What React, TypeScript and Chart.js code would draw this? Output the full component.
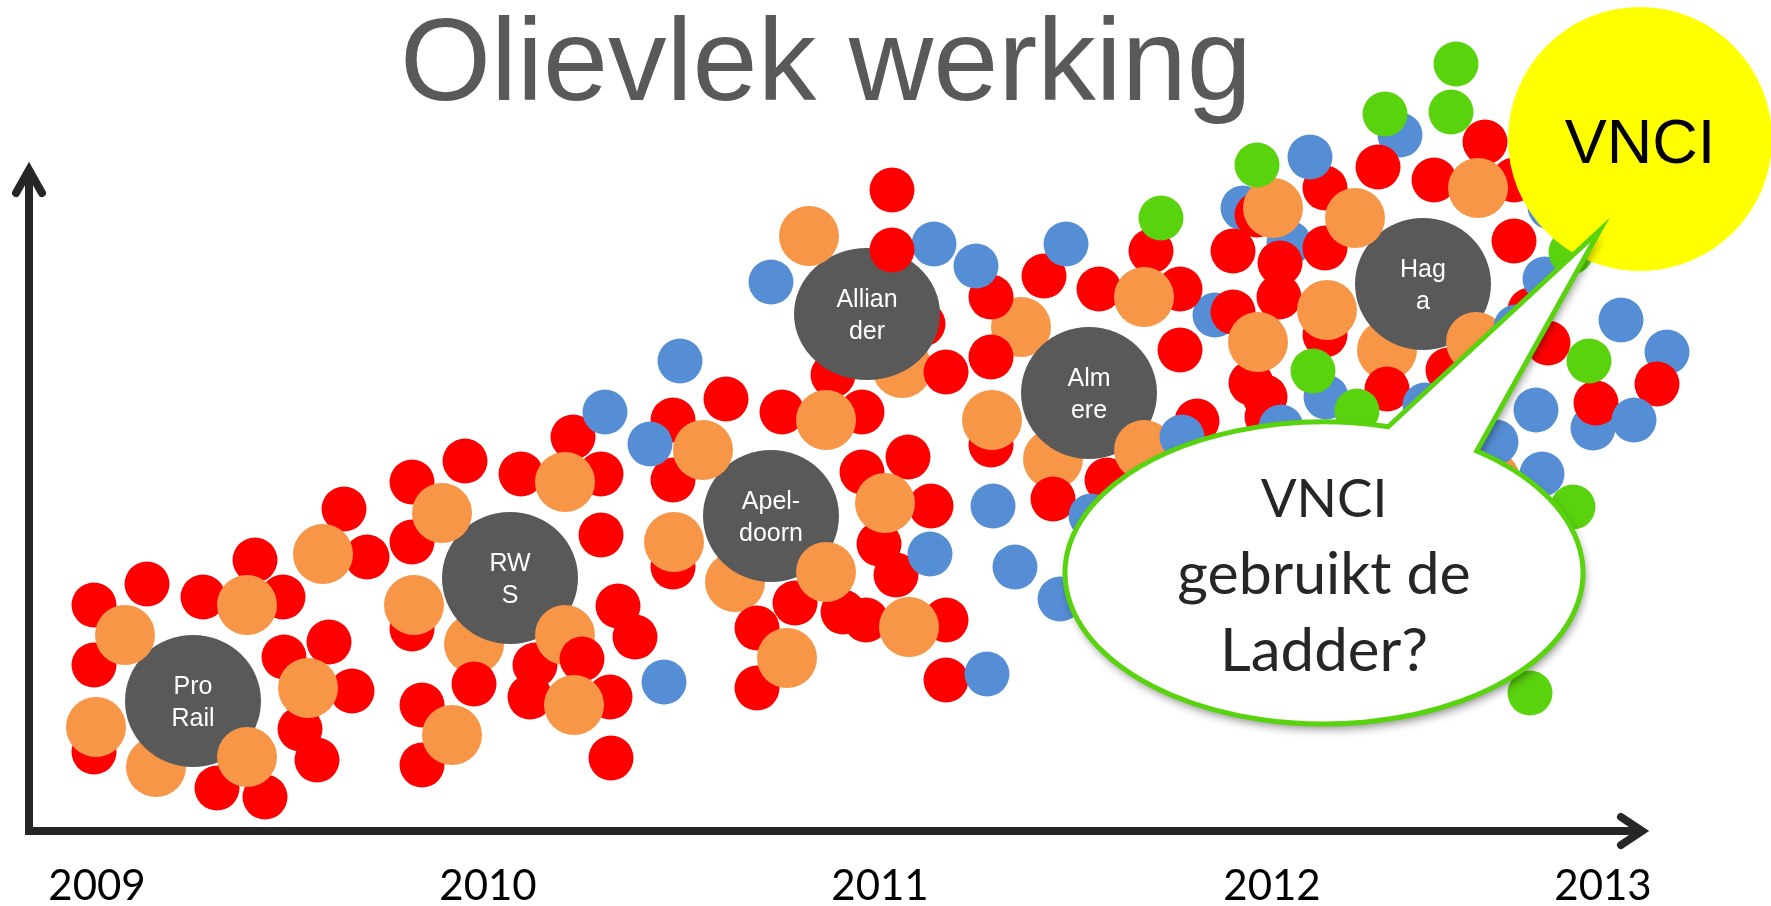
import React, { useEffect, useRef } from "react";
import { Chart, registerables } from "chart.js";

Chart.register(...registerables);

const titleText = "Olievlek werking";
const yearLabels = ["2009", "2010", "2011", "2012", "2013"];
const yearTicks = [97, 488, 880, 1272, 1603];

const redPoints = [
  [94,226],[147,247],[203,234],[255,271],[283,234],[344,322],[367,274],[412,289],[412,202],[94,166],
  [284,174],[329,189],[352,140],[300,102],[317,71],[94,79],[217,43],[265,34],[422,126],[422,66],[474,147],
  [726,432],[673,411],[573,394],[601,357],[521,357],[465,370],[412,349],[673,351],[782,419],[833,456],
  [862,419],[862,359],[601,296],[673,264],[879,287],[618,225],[635,194],[530,134],[535,166],[610,134],
  [611,73],[795,228],[843,219],[866,211],[757,203],[757,143],
  [892,641],[991,534],[1044,555],[1151,580],[1099,542],[1180,542],[991,474],[1180,481],[946,459],[923,507],
  [908,374],[931,325],[896,256],[946,211],[946,151],[991,386],[1053,332],[1107,351],[1197,410],
  [1485,689],[1378,664],[1325,643],[1434,651],[1514,651],[1257,616],[1233,580],[1325,583],[1514,590],
  [1280,568],[1279,534],[1233,519],[1325,496],[1251,448],[1265,434],[1267,414],[1387,442],[1448,461],
  [1548,488],[1530,521],[1596,428],[1657,447],[1482,394],
];
const topRedPoints = [[892,581],[582,172]];
const backOrangePoints = [[474,187],[156,64],[735,249],[902,463],[1021,504],[1053,372],[1387,481]];
const orangePoints = [
  [125,196],[247,226],[323,277],[442,318],[414,226],[308,143],[96,104],[247,74],[452,96],[565,349],
  [703,381],[826,411],[885,328],[674,289],[565,196],[826,259],[787,173],[809,595],[1144,534],[992,411],
  [1144,381],[909,204],[1273,623],[1355,613],[1478,643],[1327,521],[1258,489],[1476,489],[1490,351],
];
const topOrangePoints = [[574,126]];
const backBluePoints = [[1243,623],[1289,588],[1215,516],[1400,696],[1593,403],[1667,479],[1550,624]];
const bluePoints = [
  [680,470],[605,419],[650,387],[664,149],[771,549],[934,587],[976,565],[1066,587],[993,325],[930,277],
  [1015,264],[1060,232],[1091,315],[1182,394],[987,157],[1310,674],[1545,552],[1621,511],[1634,411],
  [1536,421],[1496,389],[1542,357],[1326,434],[1281,404],[1425,426],[1516,504],
];
const greenPoints = [[1456,767],[1451,719],[1385,717],[1257,666],[1161,613],[1571,579],[1589,470],[1313,460],[1357,420],[1573,324],[1530,138]];
const companyPoints = [[193,130],[510,253],[771,315],[867,517],[1089,438],[1423,547]];
const companyLabels = [["Pro", "Rail"], ["RW", "S"], ["Apel-", "doorn"], ["Allian", "der"], ["Alm", "ere"], ["Hag", "a"]];
const companyWidths = [68, 68, 68, 73, 68, 68];
const vnciPoint = [[1640,692]];
const vnciLabel = "VNCI";
const calloutLines = ["VNCI", "gebruikt de", "Ladder?"];
const calloutSizes = [53, 59, 60];

const toXY = (pts: number[][]) => pts.map(([x, y]) => ({ x, y }));
const ds = (label: string, pts: number[][], color: string, radius: any, extra: any = {}) => ({
  label,
  data: toXY(pts),
  backgroundColor: color,
  borderWidth: 0,
  pointRadius: radius,
  pointHoverRadius: radius,
  clip: false as const,
  ...extra,
});

const RED = "#FF0000", ORANGE = "#F79646", BLUE = "#558ED5", GREEN = "#5AD30F", DARK = "#595959", INK = "#262626";

// The company bubbles are slightly flattened in the picture, so they use an oval point style.
const ovalStyle = (rx: number, ry: number, color: string) => {
  const c = document.createElement("canvas");
  c.width = rx * 2;
  c.height = ry * 2;
  const g = c.getContext("2d") as CanvasRenderingContext2D;
  g.fillStyle = color;
  g.beginPath();
  g.ellipse(rx, ry, rx, ry, 0, 0, Math.PI * 2);
  g.fill();
  return c;
};

const overlay = {
  id: "overlay",
  afterDatasetsDraw(chart: any) {
    const { ctx, scales } = chart;
    const X = (v: number) => scales.x.getPixelForValue(v);
    const Y = (v: number) => scales.y.getPixelForValue(v);
    ctx.save();

    // axes with arrow heads
    ctx.strokeStyle = INK;
    ctx.lineWidth = 8;
    ctx.lineCap = "butt";
    ctx.beginPath();
    ctx.moveTo(X(29), Y(-4));
    ctx.lineTo(X(29), Y(655));
    ctx.moveTo(X(25), Y(0));
    ctx.lineTo(X(1642), Y(0));
    ctx.stroke();
    ctx.lineCap = "round";
    ctx.lineJoin = "miter";
    ctx.beginPath();
    ctx.moveTo(X(16), Y(638));
    ctx.lineTo(X(29), Y(661));
    ctx.lineTo(X(42), Y(638));
    ctx.moveTo(X(1621), Y(14));
    ctx.lineTo(X(1642), Y(0));
    ctx.lineTo(X(1621), Y(-14));
    ctx.stroke();

    // company labels
    ctx.fillStyle = "#FFFFFF";
    ctx.font = '25px "Liberation Sans"';
    ctx.textAlign = "center";
    ctx.textBaseline = "alphabetic";
    companyPoints.forEach(([x, y], i) => {
      companyLabels[i].forEach((t, j) => {
        ctx.fillText(t, X(x), Y(y) - 7 + j * 32);
      });
    });

    // yellow bubble label
    ctx.fillStyle = "#000000";
    ctx.font = '63px "Liberation Sans"';
    ctx.fillText(vnciLabel, X(vnciPoint[0][0]), Y(vnciPoint[0][1]) + 24);

    // speech bubble
    const cx = X(1324), cy = Y(258), rx = 259, ry = 151;
    const ax = X(1389), ay = Y(406), bx = X(1478), by = Y(381), tx = X(1600), ty = Y(601);
    const a1 = Math.atan2((ay - cy) / ry, (ax - cx) / rx);
    const a2 = Math.atan2((by - cy) / ry, (bx - cx) / rx);
    ctx.beginPath();
    ctx.ellipse(cx, cy, rx, ry, 0, a2, a1 + Math.PI * 2);
    ctx.lineTo(tx, ty);
    ctx.closePath();
    ctx.save();
    ctx.shadowColor = "rgba(0,0,0,0.45)";
    ctx.shadowBlur = 10;
    ctx.shadowOffsetX = 2;
    ctx.shadowOffsetY = 5;
    ctx.fillStyle = "#FFFFFF";
    ctx.fill();
    ctx.restore();
    ctx.strokeStyle = GREEN;
    ctx.lineWidth = 5;
    ctx.lineJoin = "miter";
    ctx.stroke();

    ctx.fillStyle = INK;
    calloutLines.forEach((t, i) => {
      ctx.font = `${calloutSizes[i]}px Lato`;
      ctx.fillText(t, cx, Y(314) + i * 77);
    });

    // title
    ctx.fillStyle = DARK;
    ctx.font = '117px "Liberation Sans"';
    ctx.textAlign = "left";
    ctx.fillText(titleText, 400, 100);
    ctx.restore();
  },
};

export default function App() {
  const ref = useRef<HTMLCanvasElement | null>(null);
  useEffect(() => {
    const ovals = companyWidths.map((w) => ovalStyle(w, 66, DARK));
    const chart = new Chart(ref.current as HTMLCanvasElement, {
      type: "scatter",
      data: {
        datasets: [
          ds("Back blue", backBluePoints, BLUE, 22.5),
          ds("Back orange", backOrangePoints, ORANGE, 30),
          ds("Red", redPoints, RED, 22.5),
          ds("Companies", companyPoints, DARK, 68, {
            pointStyle: (c: any) => ovals[c.dataIndex],
          }),
          ds("Orange", orangePoints, ORANGE, 30),
          ds("Blue", bluePoints, BLUE, 22.5),
          ds("Top red", topRedPoints, RED, 22.5),
          ds("Top orange", topOrangePoints, ORANGE, 30),
          ds("Green", greenPoints, GREEN, 22.5),
          ds("VNCI", vnciPoint, "#FFFF00", 132),
        ].map((d, i, all) => ({ ...d, order: all.length - i })),
      },
      plugins: [overlay],
      options: {
        animation: false,
        responsive: false,
        devicePixelRatio: 1,
        layout: { padding: 0, autoPadding: false },
        plugins: { legend: { display: false }, tooltip: { enabled: false }, title: { display: false } },
        scales: {
          x: {
            type: "linear",
            min: 0,
            max: 1771,
            grid: { display: false },
            border: { display: false },
            afterBuildTicks: (s: any) => {
              s.ticks = yearTicks.map((value) => ({ value }));
            },
            afterFit: (s: any) => {
              s.height = 75;
            },
            ticks: {
              autoSkip: false,
              maxRotation: 0,
              padding: 22,
              color: "#000000",
              font: { family: "Lato", size: 42 },
              callback: (_v: any, i: number) => yearLabels[i],
            },
          },
          y: { type: "linear", display: false, min: 0, max: 831 },
        },
      },
    } as any);
    return () => chart.destroy();
  }, []);
  return (
    <div style={{ position: "absolute", left: 0, top: 0, width: 1771, height: 906, overflow: "hidden", background: "#fff" }}>
      <canvas ref={ref} width={1771} height={906} style={{ display: "block" }} />
    </div>
  );
}
